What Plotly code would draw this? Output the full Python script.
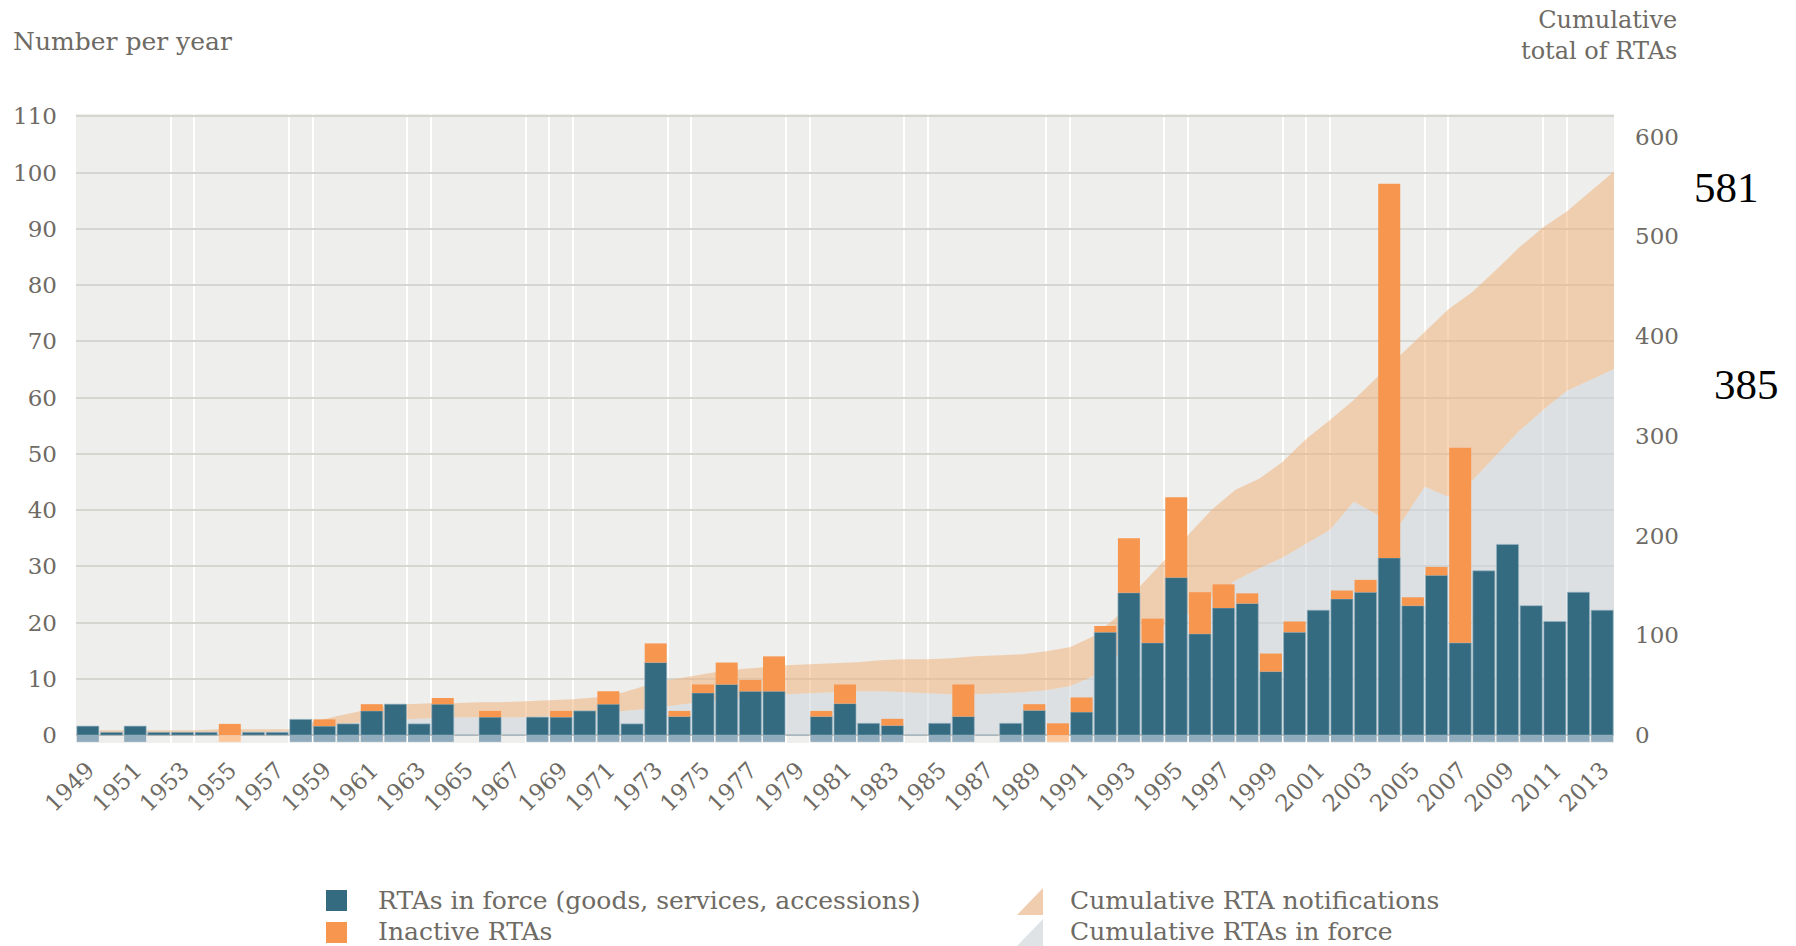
import plotly.graph_objects as go

# ---------------- data ----------------
years = list(range(1949, 2014))

# RTAs in force entering each year (number per year)
in_force = [1.6, 0.5, 1.6, 0.5, 0.5, 0.5, 0, 0.5, 0.5, 2.8,
            1.6, 2.0, 4.3, 5.5, 2.0, 5.5, 0, 3.2, 0, 3.2,
            3.2, 4.3, 5.5, 2.0, 12.9, 3.3, 7.5, 9.0, 7.8, 7.8,
            0, 3.3, 5.6, 2.1, 1.7, 0, 2.1, 3.3, 0, 2.1,
            4.4, 0, 4.1, 18.3, 25.3, 16.4, 28.0, 18.0, 22.6, 23.4,
            11.3, 18.3, 22.2, 24.2, 25.4, 31.5, 23.0, 28.4, 16.4, 29.2,
            33.9, 23.0, 20.2, 25.4, 22.2]

# Inactive RTAs (stacked on top)
inactive = [0, 0, 0, 0, 0, 0, 2.0, 0, 0, 0,
            1.2, 0, 1.2, 0, 0, 1.1, 0, 1.1, 0, 0,
            1.1, 0, 2.3, 0, 3.4, 1.0, 1.5, 3.9, 2.0, 6.2,
            0, 1.0, 3.4, 0, 1.2, 0, 0, 5.7, 0, 0,
            1.1, 2.1, 2.6, 1.1, 9.7, 4.3, 14.3, 7.4, 4.2, 1.8,
            3.2, 1.9, 0, 1.5, 2.2, 66.5, 1.5, 1.5, 34.7, 0,
            0, 0, 0, 0, 0]

# Cumulative totals (right axis), at end of each year
cum_notifications = [5, 5, 5, 5, 5, 6, 6, 6, 6, 13,
                     19, 24, 29, 31, 32, 32, 33, 33, 34, 35,
                     36, 38, 42, 49, 55, 59, 63, 66, 68, 70,
                     71, 72, 73, 75, 76, 76, 77, 79, 80, 81,
                     84, 88, 99, 119, 150, 175, 201, 226, 246, 257,
                     274, 297, 316, 336, 359, 381, 404, 427, 444, 466,
                     489, 509, 525, 545, 565]
cum_in_force = [3, 3, 3, 3, 3, 3, 3, 3, 4, 7,
                10, 13, 15, 16, 17, 18, 18, 18, 18, 19,
                20, 21, 24, 26, 29, 32, 34, 37, 40, 41,
                42, 43, 44, 44, 43, 42, 41, 41, 42, 43,
                45, 49, 59, 79, 96, 110, 121, 138, 155, 167,
                178, 192, 206, 234, 221, 213, 249, 239, 255, 280,
                305, 326, 345, 356, 367]

tick_years = years[::2]
left_ticks = list(range(0, 111, 10))
right_ticks = list(range(0, 601, 100))

# white vertical guide lines of the original chart (year boundaries)
guide_lines = [1952.5, 1953.5, 1957.5, 1958.5, 1962.5, 1963.5, 1967.5, 1968.5,
               1969.5, 1973.5, 1974.5, 1978.5, 1979.5, 1983.5, 1984.5, 1989.5,
               1990.5, 1994.5, 1995.5, 1999.5, 2000.5, 2001.5, 2005.5, 2006.5,
               2010.5, 2011.5]

end_labels = ["581", "385"]

# ---------------- styling ----------------
W, H = 1796, 946
L, R, T, B = 76, 182, 114, 203
PW, PH = W - L - R, H - T - B

TEAL = "#356b80"
ORANGE = "#f7964f"
TEAL_LIGHT = "#8fabbc"
ORANGE_LIGHT = "#fcc79c"
TEXT = "#6e6a64"
FONT = "DejaVu Serif"

left_range = [-1.4, 110.4]
RATIO = 5.64
right_range = [v * RATIO for v in left_range]

SHADOW = 1.2
shadow_y = [-SHADOW if (f >= 1 or i > 0) else 0 for f, i in zip(in_force, inactive)]
shadow_c = [TEAL_LIGHT if f >= 1 else ORANGE_LIGHT for f in in_force]

cum_x = [y + 0.5 for y in years]


def px(x):
    return (x - L) / PW


def py(y):
    return (H - B - y) / PH


fig = go.Figure()

fig.add_trace(go.Scatter(
    x=cum_x, y=cum_in_force, yaxis="y", mode="lines",
    line=dict(width=0, color="rgba(0,0,0,0)"),
    fill="tozeroy", fillcolor="rgba(206,214,219,0.55)",
    name="Cumulative RTAs in force", showlegend=False, hoverinfo="skip"))
fig.add_trace(go.Scatter(
    x=cum_x, y=cum_notifications, yaxis="y", mode="lines",
    line=dict(width=0, color="rgba(0,0,0,0)"),
    fill="tonexty", fillcolor="rgba(240,180,127,0.55)",
    name="Cumulative RTA notifications", showlegend=False, hoverinfo="skip"))

bar_line = dict(width=0.8, color="rgba(150,180,195,0.8)")
fig.add_trace(go.Bar(
    x=years, y=in_force, yaxis="y2", marker=dict(color=TEAL, line=bar_line),
    name="RTAs in force (goods, services, accessions)", showlegend=False))
fig.add_trace(go.Bar(
    x=years, y=inactive, yaxis="y2",
    marker=dict(color=ORANGE, line=dict(width=0)),
    name="Inactive RTAs", showlegend=False))
fig.add_trace(go.Bar(
    x=years, y=shadow_y, yaxis="y2",
    marker=dict(color=shadow_c, line=dict(width=0)),
    showlegend=False, hoverinfo="skip"))

tickfont = dict(family=FONT, size=23, color=TEXT)

fig.update_layout(
    width=W, height=H,
    margin=dict(l=L, r=R, t=T, b=B, autoexpand=False),
    paper_bgcolor="white", plot_bgcolor="#eeeeec",
    barmode="relative", bargap=0.07,
    showlegend=False,
    xaxis=dict(
        range=[1948.5, 2013.5], tickmode="array", tickvals=tick_years,
        tickangle=-45, tickfont=dict(family=FONT, size=23, color=TEXT),
        ticks="", showgrid=False, zeroline=False, showline=False,
        ticklabelstandoff=8,
        minor=dict(tickmode="array", tickvals=guide_lines, showgrid=True,
                   gridcolor="rgba(255,255,255,0.95)", gridwidth=2, ticks=""),
    ),
    yaxis=dict(
        side="right", range=right_range, tickmode="array", tickvals=right_ticks,
        showgrid=False, zeroline=False, ticks="", tickfont=tickfont,
        ticklabelstandoff=20,
    ),
    yaxis2=dict(
        overlaying="y", side="left", range=left_range, tickmode="array",
        tickvals=left_ticks, showgrid=True, gridcolor="#d6d6d1", gridwidth=2,
        zeroline=True, zerolinecolor="#cfc3b6", zerolinewidth=2,
        ticks="", tickfont=tickfont, ticklabelstandoff=18,
    ),
)

annotations = [
    dict(text="Number per year", x=px(11), y=py(42), xanchor="left", yanchor="middle",
         font=dict(family=FONT, size=25, color=TEXT)),
    dict(text="Cumulative<br>total of RTAs", x=px(1679), y=py(35), xanchor="right",
         yanchor="middle", align="right", font=dict(family=FONT, size=24, color=TEXT)),
    dict(text=end_labels[0], x=px(1727), y=py(187), xanchor="center", yanchor="middle",
         font=dict(family="Liberation Serif", size=43, color="black")),
    dict(text=end_labels[1], x=px(1746), y=py(384), xanchor="center", yanchor="middle",
         font=dict(family="Liberation Serif", size=43, color="black")),
    dict(text="RTAs in force (goods, services, accessions)", x=px(376), y=py(900),
         xanchor="left", yanchor="middle", font=dict(family=FONT, size=25, color=TEXT)),
    dict(text="Inactive RTAs", x=px(376), y=py(931),
         xanchor="left", yanchor="middle", font=dict(family=FONT, size=25, color=TEXT)),
    dict(text="Cumulative RTA notifications", x=px(1068), y=py(900),
         xanchor="left", yanchor="middle", font=dict(family=FONT, size=25, color=TEXT)),
    dict(text="Cumulative RTAs in force", x=px(1068), y=py(931),
         xanchor="left", yanchor="middle", font=dict(family=FONT, size=25, color=TEXT)),
]
for a in annotations:
    a.update(xref="paper", yref="paper", showarrow=False)
fig.update_layout(annotations=annotations)


def tri(x0, y0, x1, y1):
    return f"M {px(x0)},{py(y1)} L {px(x1)},{py(y1)} L {px(x1)},{py(y0)} Z"


shapes = [
    dict(type="rect", x0=px(326), x1=px(347), y0=py(911), y1=py(890),
         fillcolor=TEAL, line=dict(width=0)),
    dict(type="rect", x0=px(326), x1=px(347), y0=py(943), y1=py(922),
         fillcolor=ORANGE, line=dict(width=0)),
    dict(type="path", path=tri(1017, 888, 1043, 915),
         fillcolor="#f1cdb0", line=dict(width=0)),
    dict(type="path", path=tri(1017, 919, 1043, 946),
         fillcolor="#dfe3e5", line=dict(width=0)),
]
for s in shapes:
    s.update(xref="paper", yref="paper", layer="above")
fig.update_layout(shapes=shapes)

fig.write_html(
    "out.html",
    config={"displayModeBar": False},
    post_script="document.body.style.margin='0px';document.body.style.overflow='hidden';",
)
